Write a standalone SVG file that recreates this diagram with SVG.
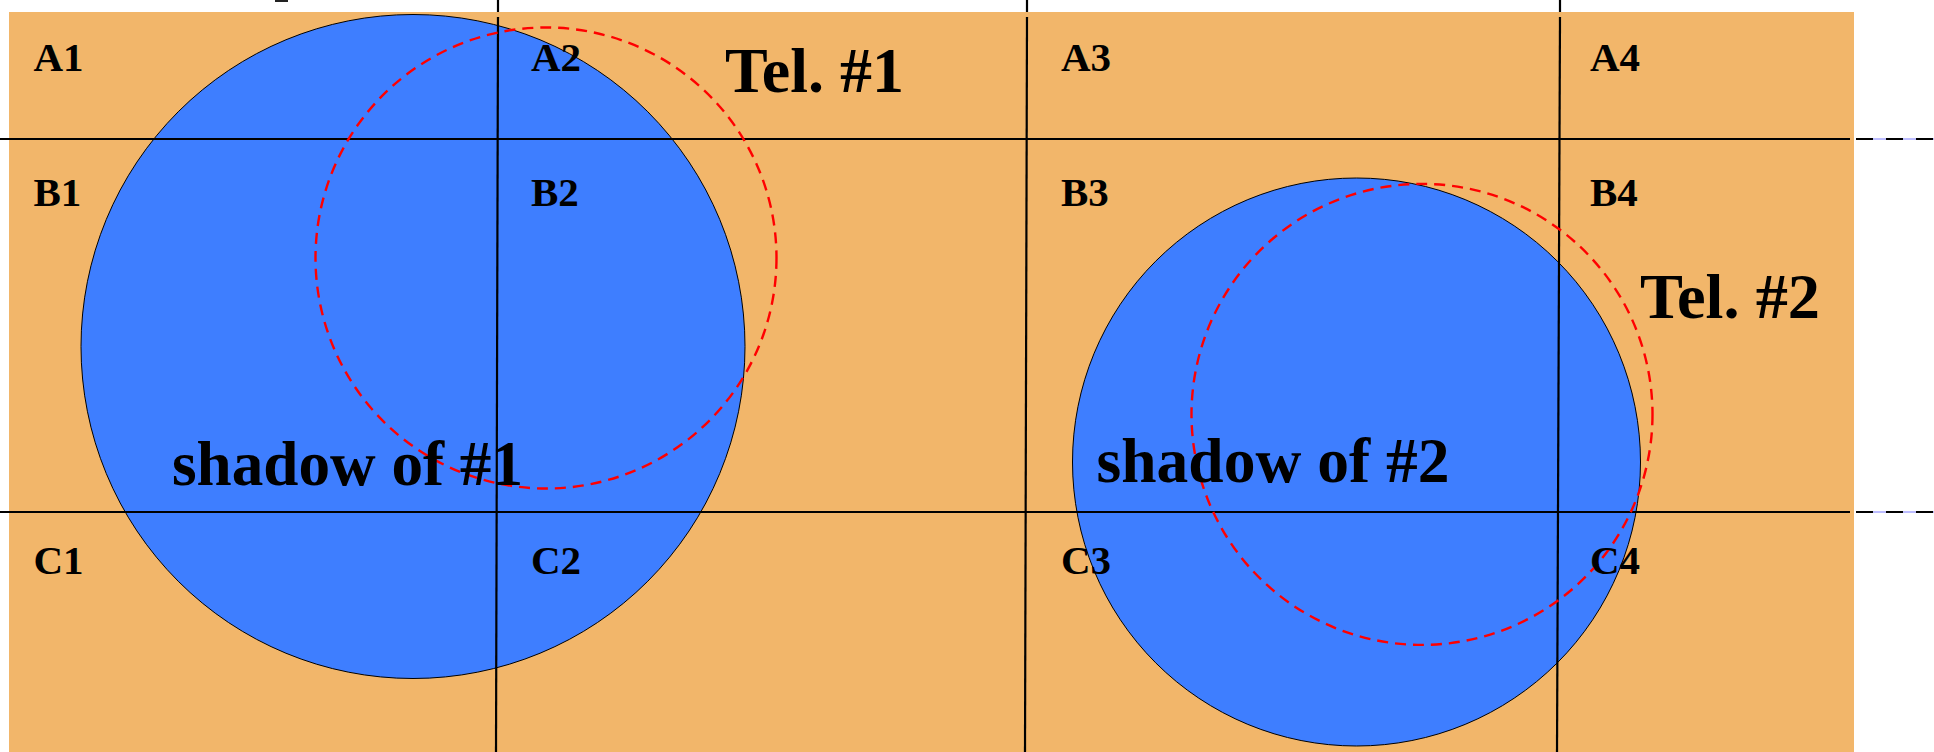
<svg xmlns="http://www.w3.org/2000/svg" width="1934" height="752" viewBox="0 0 1934 752">
<style>
.grid{stroke:#000;stroke-width:2.2;fill:none}
.shadow{fill:#3e7eff;stroke:#000;stroke-width:1}
.tel{fill:none;stroke:#ff0000;stroke-width:2.4;stroke-dasharray:11 7}
.cell{font-family:"Liberation Serif","Times New Roman",serif;font-weight:bold;font-size:41px;fill:#000}
.big{font-family:"Liberation Serif","Times New Roman",serif;font-weight:bold;font-size:64px;fill:#000}
</style>
<rect width="1934" height="752" fill="#ffffff"/>
<rect id="field" x="9" y="12" width="1845" height="740" fill="#f2b66a"/>
<line x1="275" y1="1" x2="288" y2="1" stroke="#222" stroke-width="2"/>
<g id="shadow1"><circle class="shadow" cx="413" cy="346.5" r="332"/></g>
<g id="shadow2"><circle class="shadow" cx="1356.5" cy="462" r="284"/></g>
<g id="grid">
<line class="grid" x1="498" y1="0" x2="498" y2="12"/>
<line class="grid" x1="498" y1="17" x2="496" y2="752"/>
<line class="grid" x1="1027" y1="0" x2="1027" y2="12"/>
<line class="grid" x1="1027" y1="17" x2="1025" y2="752"/>
<line class="grid" x1="1560" y1="0" x2="1560" y2="12"/>
<line class="grid" x1="1560" y1="17" x2="1557" y2="752"/>
<line class="grid" x1="0" y1="139" x2="1850" y2="139"/>
<line class="grid" x1="0" y1="512" x2="1850" y2="512"/>
<line x1="1856" y1="139" x2="1934" y2="139" stroke="#7a7aff" stroke-width="1"/>
<line x1="1856" y1="512" x2="1934" y2="512" stroke="#7a7aff" stroke-width="1"/>
<line x1="1856" y1="139" x2="1934" y2="139" stroke="#000" stroke-width="2" stroke-dasharray="17 13"/>
<line x1="1856" y1="512" x2="1934" y2="512" stroke="#000" stroke-width="2" stroke-dasharray="17 13"/>
</g>
<g id="tel1"><circle class="tel" cx="546" cy="258" r="230.5"/></g>
<g id="tel2"><circle class="tel" cx="1422" cy="414.4" r="230.5"/></g>
<g id="labels">
<text class="cell" x="33.5" y="70.7">A1</text>
<text class="cell" x="531" y="70.7">A2</text>
<text class="cell" x="1061" y="70.7">A3</text>
<text class="cell" x="1590" y="70.7">A4</text>
<text class="cell" x="33.5" y="206">B1</text>
<text class="cell" x="531" y="206">B2</text>
<text class="cell" x="1061" y="206">B3</text>
<text class="cell" x="1590" y="206">B4</text>
<text class="cell" x="33.5" y="574.3">C1</text>
<text class="cell" x="531" y="574.3">C2</text>
<text class="cell" x="1061" y="574.3">C3</text>
<text class="cell" x="1590" y="574.3">C4</text>
<text class="big" x="725" y="91.7" textLength="179" lengthAdjust="spacingAndGlyphs">Tel. #1</text>
<text class="big" x="1640" y="318.3" textLength="180" lengthAdjust="spacingAndGlyphs">Tel. #2</text>
<text class="big" x="172" y="485" textLength="351" lengthAdjust="spacingAndGlyphs">shadow of #1</text>
<text class="big" x="1096.5" y="481.7" textLength="353" lengthAdjust="spacingAndGlyphs">shadow of #2</text>
</g>
</svg>
